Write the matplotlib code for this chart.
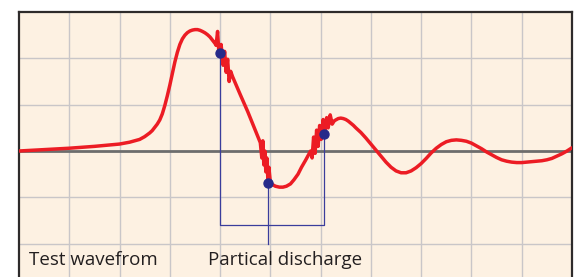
import matplotlib
matplotlib.use("Agg")
import matplotlib.pyplot as plt

# waveform in grid divisions (x: 0..11, y: -3..3)
wave_x = [0, 0.5, 1.0, 1.5, 2.0, 2.2, 2.4, 2.5, 2.6, 2.65, 2.7, 2.75, 2.8, 2.85, 2.9, 2.95,
          3.0, 3.05, 3.1, 3.15, 3.2, 3.25, 3.3, 3.35, 3.4, 3.45, 3.5, 3.55, 3.6, 3.65,
          3.7, 3.75, 3.8, 3.85, 3.9,
          # first discharge burst
          3.92, 3.95, 3.98, 4.02, 4.06, 4.09, 4.12, 4.15, 4.18, 4.21,
          4.25, 4.4, 4.55, 4.7, 4.80,
          # second burst
          4.83, 4.85, 4.87, 4.89, 4.91, 4.93, 4.95, 4.97, 5.0,
          5.05, 5.1, 5.18, 5.25, 5.32, 5.4, 5.47, 5.55, 5.62, 5.7, 5.75, 5.8,
          # third burst
          5.83, 5.86, 5.89, 5.92, 5.95, 5.98, 6.01, 6.05, 6.08, 6.12, 6.15, 6.19, 6.23,
          6.27, 6.3, 6.35, 6.4, 6.45, 6.5, 6.55, 6.6, 6.65, 6.7, 6.8, 6.9, 7.0, 7.1,
          7.2, 7.3, 7.4, 7.5, 7.6, 7.7,
          7.8, 7.9, 8.0, 8.1, 8.2, 8.3, 8.4, 8.5, 8.6, 8.7, 8.8, 8.9, 9.0, 9.1, 9.2,
          9.3, 9.4, 9.5, 9.6, 9.7, 9.8, 9.9, 10.0, 10.1, 10.2, 10.3, 10.4, 10.5, 10.6,
          10.7, 10.8, 10.9, 11.0]
wave_y = [0, 0.03, 0.06, 0.10, 0.15, 0.19, 0.25, 0.31, 0.39, 0.44, 0.51, 0.58, 0.67, 0.80, 0.98, 1.19,
          1.42, 1.67, 1.92, 2.13, 2.30, 2.42, 2.50, 2.555, 2.59, 2.61, 2.62, 2.62, 2.605, 2.58,
          2.55, 2.51, 2.46, 2.39, 2.32,
          2.28, 2.58, 2.05, 2.30, 1.85, 2.15, 1.70, 1.98, 1.50, 1.72,
          1.60, 1.22, 0.85, 0.45, 0.18,
          -0.15, 0.22, -0.30, 0.0, -0.45, -0.15, -0.60, -0.35, -0.68,
          -0.73, -0.76, -0.78, -0.78, -0.76, -0.71, -0.62, -0.50, -0.35, -0.20, -0.10, 0.0,
          -0.15, 0.30, -0.05, 0.45, 0.10, 0.55, 0.25, 0.68, 0.35, 0.72, 0.50, 0.78, 0.58,
          0.65, 0.67, 0.70, 0.71, 0.70, 0.68, 0.645, 0.60, 0.555, 0.50, 0.40, 0.28, 0.15, 0.02,
          -0.11, -0.24, -0.35, -0.43, -0.47, -0.47,
          -0.43, -0.36, -0.27, -0.16, -0.04, 0.06, 0.14, 0.20, 0.23, 0.24, 0.23, 0.21, 0.17, 0.11, 0.05,
          -0.02, -0.08, -0.14, -0.19, -0.22, -0.24, -0.25, -0.25, -0.24, -0.23, -0.22, -0.21, -0.19, -0.16,
          -0.11, -0.06, 0.0, 0.07]

# discharge markers
pd_x = [4.0, 4.95, 6.07]
pd_y = [2.12, -0.69, 0.36]
bracket_y = -1.6
pointer_y = -2.0

labels = ["Test wavefrom", "Partical discharge"]
label_x = [0.2, 3.76]
label_y = -2.46

fig = plt.figure(figsize=(5.87, 2.77), dpi=100)
ax = fig.add_axes([19 / 587, -13 / 277, 553 / 587, 278 / 277])
ax.set_facecolor("#fdf1e2")
ax.set_xlim(0, 11)
ax.set_ylim(-3, 3)

# grid
for gx in range(1, 11):
    ax.axvline(gx, color="#c9c6c8", lw=1.0, zorder=1)
for gy in [-2, -1, 1, 2]:
    ax.axhline(gy, color="#c9c6c8", lw=1.0, zorder=1)
ax.axhline(0, color="#6d6d6d", lw=2.0, zorder=2)

for side in ["left", "top", "right", "bottom"]:
    ax.spines[side].set_color("#2e2b2b")
    ax.spines[side].set_linewidth(1.6)
ax.set_xticks([])
ax.set_yticks([])

# blue bracket
ax.plot([pd_x[0], pd_x[0], pd_x[2], pd_x[2]],
        [pd_y[0], bracket_y, bracket_y, pd_y[2]],
        color="#3a3d9c", lw=0.9, zorder=3)
ax.plot([pd_x[1], pd_x[1]], [pd_y[1], pointer_y], color="#3a3d9c", lw=0.9, zorder=3)

ax.plot(wave_x, wave_y, color="#ec1c24", lw=2.5, solid_joinstyle="round",
        solid_capstyle="round", zorder=4)
ax.scatter(pd_x, pd_y, s=42, color="#262a8a", zorder=5)

for lbl, lx in zip(labels, label_x):
    ax.text(lx, label_y, lbl, fontsize=13.5, family="Open Sans", color="#231f20",
            va="baseline", ha="left", zorder=6)

fig.savefig("out.png", dpi=100)
